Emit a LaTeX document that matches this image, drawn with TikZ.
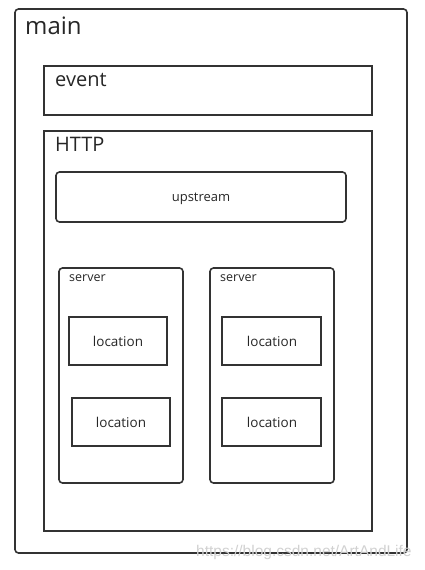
\documentclass[tikz,border=0pt]{standalone}
\usepackage{fontspec}
\setmainfont{Open Sans}
\newfontfamily\wmfont{Liberation Sans}
\begin{document}
\begin{tikzpicture}[x=1pt,y=-1pt,
  box/.style={draw=black!80,line width=1.6pt},
  rbox/.style={box,rounded corners=3.5pt},
  lbl/.style={inner sep=0pt,anchor=base west,text=black!85},
  ctr/.style={inner sep=0pt,anchor=base,text=black!85}]
\useasboundingbox (0,0) rectangle (424,570);
% main
\draw[rbox] (15,9) rectangle (407,553);
\node[lbl,font=\fontsize{24}{28}\selectfont] (mainl) at (25,34) {main};
% event
\draw[box] (44,66) rectangle (372,115);
\node[lbl,font=\fontsize{20}{24}\selectfont] (eventl) at (55,86) {event};
% HTTP
\draw[box] (44,131) rectangle (372,531);
\node[lbl,font=\fontsize{20}{24}\selectfont] (httpl) at (55,151) {HTTP};
% upstream
\draw[rbox] (56,172) rectangle (346,222);
\node[ctr,font=\fontsize{13}{16}\selectfont] (ups) at (201,201.5) {upstream};
% servers
\draw[rbox] (59,268) rectangle (183,483);
\node[lbl,font=\fontsize{12.5}{15}\selectfont] (s1) at (69,281) {server};
\draw[rbox] (210,268) rectangle (334,483);
\node[lbl,font=\fontsize{12.5}{15}\selectfont] (s2) at (220,281) {server};
% locations
\draw[box] (69,317) rectangle (167,365);
\node[ctr,font=\fontsize{13.5}{16}\selectfont] (l1) at (118,346) {location};
\draw[box] (72,398) rectangle (170,446);
\node[ctr,font=\fontsize{13.5}{16}\selectfont] (l2) at (121,427) {location};
\draw[box] (222,317) rectangle (321,365);
\node[ctr,font=\fontsize{13.5}{16}\selectfont] (l3) at (272,346) {location};
\draw[box] (222,398) rectangle (321,446);
\node[ctr,font=\fontsize{13.5}{16}\selectfont] (l4) at (272,427) {location};
% watermark
\node[inner sep=0pt,anchor=base west,text=black!18,font=\wmfont\fontsize{15.5}{18}\selectfont] (wm) at (196,556) {https://blog.csdn.net/ArtAndLife};
\end{tikzpicture}
\end{document}
